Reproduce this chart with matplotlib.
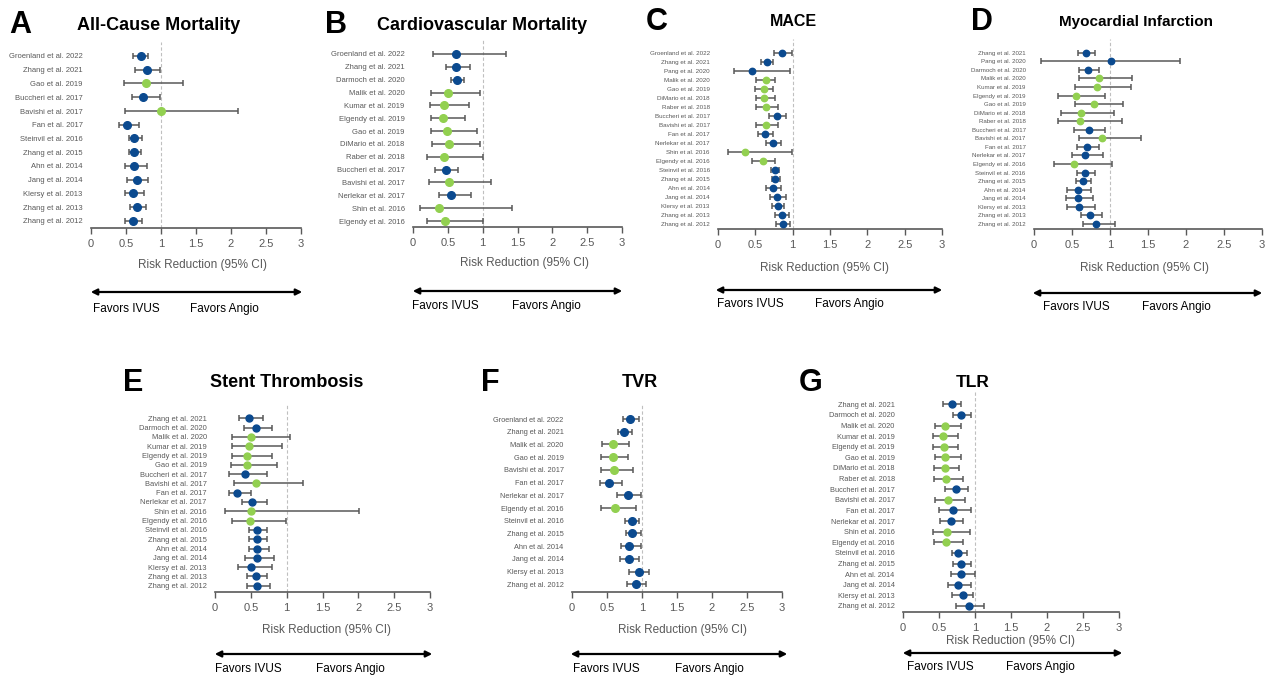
import matplotlib
matplotlib.use('Agg')
import matplotlib.pyplot as plt
from matplotlib.patches import FancyArrowPatch

plt.rcParams['font.family'] = ['Liberation Sans', 'DejaVu Sans']

W, H = 1270, 676
BLUE = '#0b4a8f'
GREEN = '#92d050'
GRAY = '#595959'

# A) All-cause mortality
a_labels = ['Groenland et al. 2022', 'Zhang et al. 2021', 'Gao et al. 2019', 'Buccheri et al. 2017',
            'Bavishi et al. 2017', 'Fan et al. 2017', 'Steinvil et al. 2016', 'Zhang et al. 2015',
            'Ahn et al. 2014', 'Jang et al. 2014', 'Klersy et al. 2013', 'Zhang et al. 2013', 'Zhang et al. 2012']
a_est = [0.71, 0.80, 0.78, 0.74, 1.00, 0.52, 0.62, 0.62, 0.61, 0.65, 0.60, 0.66, 0.60]
a_lo = [0.60, 0.63, 0.47, 0.59, 0.48, 0.40, 0.54, 0.54, 0.48, 0.51, 0.48, 0.55, 0.48]
a_hi = [0.82, 0.99, 1.32, 0.99, 2.10, 0.68, 0.73, 0.72, 0.80, 0.81, 0.75, 0.79, 0.73]
a_grp = ['b', 'b', 'g', 'b', 'g', 'b', 'b', 'b', 'b', 'b', 'b', 'b', 'b']

# B) Cardiovascular mortality
b_labels = ['Groenland et al. 2022', 'Zhang et al. 2021', 'Darmoch et al. 2020', 'Malik et al. 2020',
            'Kumar et al. 2019', 'Elgendy et al. 2019', 'Gao et al. 2019', 'DiMario et al. 2018',
            'Raber et al. 2018', 'Buccheri et al. 2017', 'Bavishi et al. 2017', 'Nerlekar et al. 2017',
            'Shin et al. 2016', 'Elgendy et al. 2016']
b_est = [0.62, 0.62, 0.63, 0.50, 0.44, 0.43, 0.49, 0.51, 0.45, 0.47, 0.51, 0.55, 0.38, 0.46]
b_lo = [0.29, 0.47, 0.54, 0.26, 0.24, 0.26, 0.26, 0.27, 0.20, 0.32, 0.23, 0.37, 0.10, 0.20]
b_hi = [1.33, 0.82, 0.73, 0.96, 0.80, 0.75, 0.92, 0.96, 1.00, 0.65, 1.12, 0.83, 1.42, 1.00]
b_grp = ['b', 'b', 'b', 'g', 'g', 'g', 'g', 'g', 'g', 'b', 'g', 'b', 'g', 'g']

# C) MACE
c_labels = ['Groenland et al. 2022', 'Zhang et al. 2021', 'Pang et al. 2020', 'Malik et al. 2020',
            'Gao et al. 2019', 'DiMario et al. 2018', 'Raber et al. 2018', 'Buccheri et al. 2017',
            'Bavishi et al. 2017', 'Fan et al. 2017', 'Nerlekar et al. 2017', 'Shin et al. 2016',
            'Elgendy et al. 2016', 'Steinvil et al. 2016', 'Zhang et al. 2015', 'Ahn et al. 2014',
            'Jang et al. 2014', 'Klersy et al. 2013', 'Zhang et al. 2013', 'Zhang et al. 2012']
c_est = [0.86, 0.65, 0.46, 0.64, 0.61, 0.62, 0.64, 0.79, 0.64, 0.63, 0.73, 0.36, 0.60, 0.76, 0.77, 0.74, 0.79, 0.80, 0.86, 0.87]
c_lo = [0.75, 0.58, 0.21, 0.51, 0.49, 0.51, 0.51, 0.68, 0.51, 0.54, 0.64, 0.13, 0.46, 0.71, 0.72, 0.64, 0.69, 0.72, 0.77, 0.78]
c_hi = [0.99, 0.73, 0.97, 0.76, 0.74, 0.76, 0.80, 0.91, 0.80, 0.73, 0.85, 0.99, 0.76, 0.82, 0.83, 0.85, 0.91, 0.88, 0.95, 0.96]
c_grp = ['b', 'b', 'b', 'g', 'g', 'g', 'g', 'b', 'g', 'b', 'b', 'g', 'g', 'b', 'b', 'b', 'b', 'b', 'b', 'b']

# D) Myocardial infarction
d_labels = ['Zhang et al. 2021', 'Pang et al. 2020', 'Darmoch et al. 2020', 'Malik et al. 2020',
            'Kumar et al. 2019', 'Elgendy et al. 2019', 'Gao et al. 2019', 'DiMario et al. 2018',
            'Raber et al. 2018', 'Buccheri et al. 2017', 'Bavishi et al. 2017', 'Fan et al. 2017',
            'Nerlekar et al. 2017', 'Elgendy et al. 2016', 'Steinvil et al. 2016', 'Zhang et al. 2015',
            'Ahn et al. 2014', 'Jang et al. 2014', 'Klersy et al. 2013', 'Zhang et al. 2013', 'Zhang et al. 2012']
d_est = [0.685, 1.01, 0.71, 0.86, 0.83, 0.55, 0.79, 0.62, 0.61, 0.72, 0.90, 0.70, 0.67, 0.52, 0.675, 0.64, 0.58, 0.58, 0.59, 0.74, 0.82]
d_lo = [0.58, 0.09, 0.59, 0.59, 0.54, 0.32, 0.54, 0.36, 0.32, 0.53, 0.59, 0.56, 0.50, 0.26, 0.57, 0.55, 0.44, 0.42, 0.44, 0.62, 0.64]
d_hi = [0.80, 1.92, 0.86, 1.29, 1.28, 0.94, 1.17, 1.05, 1.16, 0.94, 1.41, 0.86, 0.91, 1.02, 0.80, 0.75, 0.75, 0.78, 0.80, 0.90, 1.06]
d_grp = ['b', 'b', 'b', 'g', 'g', 'g', 'g', 'g', 'g', 'b', 'g', 'b', 'b', 'g', 'b', 'b', 'b', 'b', 'b', 'b', 'b']

# E) Stent thrombosis
e_labels = ['Zhang et al. 2021', 'Darmoch et al. 2020', 'Malik et al. 2020', 'Kumar et al. 2019',
            'Elgendy et al. 2019', 'Gao et al. 2019', 'Buccheri et al. 2017', 'Bavishi et al. 2017',
            'Fan et al. 2017', 'Nerlekar et al. 2017', 'Shin et al. 2016', 'Elgendy et al. 2016',
            'Steinvil et al. 2016', 'Zhang et al. 2015', 'Ahn et al. 2014', 'Jang et al. 2014',
            'Klersy et al. 2013', 'Zhang et al. 2013', 'Zhang et al. 2012']
e_est = [0.48, 0.57, 0.50, 0.47, 0.44, 0.45, 0.42, 0.57, 0.31, 0.52, 0.50, 0.49, 0.58, 0.59, 0.59, 0.59, 0.50, 0.57, 0.58]
e_lo = [0.33, 0.41, 0.24, 0.24, 0.24, 0.23, 0.20, 0.27, 0.20, 0.38, 0.135, 0.24, 0.47, 0.47, 0.47, 0.42, 0.32, 0.44, 0.44]
e_hi = [0.665, 0.80, 1.05, 0.94, 0.80, 0.87, 0.72, 1.23, 0.50, 0.72, 2.01, 0.99, 0.73, 0.73, 0.75, 0.82, 0.80, 0.73, 0.77]
e_grp = ['b', 'b', 'g', 'g', 'g', 'g', 'b', 'g', 'b', 'b', 'g', 'g', 'b', 'b', 'b', 'b', 'b', 'b', 'b']

# F) TVR
f_labels = ['Groenland et al. 2022', 'Zhang et al. 2021', 'Malik et al. 2020', 'Gao et al. 2019',
            'Bavishi et al. 2017', 'Fan et al. 2017', 'Nerlekar et al. 2017', 'Elgendy et al. 2016',
            'Steinvil et al. 2016', 'Zhang et al. 2015', 'Ahn et al. 2014', 'Jang et al. 2014',
            'Klersy et al. 2013', 'Zhang et al. 2012']
f_est = [0.83, 0.74, 0.59, 0.58, 0.60, 0.53, 0.80, 0.61, 0.86, 0.86, 0.82, 0.81, 0.95, 0.91]
f_lo = [0.73, 0.65, 0.43, 0.41, 0.41, 0.40, 0.64, 0.41, 0.76, 0.77, 0.70, 0.68, 0.82, 0.78]
f_hi = [0.96, 0.85, 0.81, 0.80, 0.87, 0.71, 0.99, 0.91, 0.95, 0.98, 0.98, 0.95, 1.10, 1.05]
f_grp = ['b', 'b', 'g', 'g', 'g', 'b', 'b', 'g', 'b', 'b', 'b', 'b', 'b', 'b']

# G) TLR
g_labels = ['Zhang et al. 2021', 'Darmoch et al. 2020', 'Malik et al. 2020', 'Kumar et al. 2019',
            'Elgendy et al. 2019', 'Gao et al. 2019', 'DiMario et al. 2018', 'Raber et al. 2018',
            'Buccheri et al. 2017', 'Bavishi et al. 2017', 'Fan et al. 2017', 'Nerlekar et al. 2017',
            'Shin et al. 2016', 'Elgendy et al. 2016', 'Steinvil et al. 2016', 'Zhang et al. 2015',
            'Ahn et al. 2014', 'Jang et al. 2014', 'Klersy et al. 2013', 'Zhang et al. 2012']
g_est = [0.68, 0.81, 0.59, 0.56, 0.57, 0.59, 0.58, 0.60, 0.74, 0.62, 0.69, 0.66, 0.61, 0.60, 0.77, 0.81, 0.81, 0.76, 0.83, 0.91]
g_lo = [0.56, 0.70, 0.44, 0.41, 0.42, 0.44, 0.43, 0.43, 0.58, 0.45, 0.50, 0.52, 0.41, 0.43, 0.68, 0.69, 0.67, 0.62, 0.68, 0.73]
g_hi = [0.81, 0.94, 0.81, 0.77, 0.77, 0.81, 0.78, 0.83, 0.90, 0.86, 0.94, 0.84, 0.93, 0.84, 0.89, 0.94, 1.00, 0.94, 0.97, 1.12]
g_grp = ['b', 'b', 'g', 'g', 'g', 'g', 'g', 'g', 'b', 'g', 'b', 'b', 'g', 'g', 'b', 'b', 'b', 'b', 'b', 'b']

xticks = [0, 0.5, 1, 1.5, 2, 2.5, 3]
xtick_labels = ['0', '0.5', '1', '1.5', '2', '2.5', '3']

fig = plt.figure(figsize=(W / 100, H / 100), dpi=100)


def fx(x):
    return x / W


def fy(y):
    return 1 - y / H


def panel(letter, title, labels, est, lo, hi, grp, lay):
    # lay: pixel layout of the panel
    n = len(labels)
    x0, x3, yf, yl, ya = lay['x0'], lay['x3'], lay['yf'], lay['yl'], lay['ya']
    top = yf - 14
    s = (yl - yf) / (n - 1)
    ax = fig.add_axes([fx(x0), fy(ya), (x3 - x0) / W, (ya - top) / H])
    ax.set_xlim(0, 3)
    ax.set_ylim(-(ya - yl) / s, n - 1 + (yf - top) / s)
    ypos = [n - 1 - i for i in range(n)]
    ax.axvline(1, color='#bfbfbf', lw=0.8, ls=(0, (3, 2)), zorder=0)
    ms = lay.get('ms', 5.5)
    for i in range(n):
        c = BLUE if grp[i] == 'b' else GREEN
        ax.errorbar(est[i], ypos[i], xerr=[[est[i] - lo[i]], [hi[i] - est[i]]], fmt='o',
                    color=c, ms=ms, ecolor=GRAY, elinewidth=1.1, capsize=2.2, capthick=1.1,
                    mec=c, zorder=3)
    ax.set_yticks(ypos)
    ax.set_yticklabels(labels, fontsize=lay['fs'], color=GRAY)
    ax.tick_params(axis='y', length=0, pad=6)
    ax.set_xticks(xticks)
    ax.set_xticklabels(xtick_labels, fontsize=8, color=GRAY)
    ax.tick_params(axis='x', direction='out', length=4, color=GRAY, width=1, pad=4)
    for sp in ['top', 'right', 'left']:
        ax.spines[sp].set_visible(False)
    ax.spines['bottom'].set_color(GRAY)
    ax.spines['bottom'].set_linewidth(1.2)
    ax.patch.set_alpha(0)

    fig.text(fx(lay['letter'][0]), fy(lay['letter'][1]), letter, fontsize=22, fontweight='bold',
             ha='center', va='center')
    fig.text(fx(lay['title'][0]), fy(lay['title'][1]), title, fontsize=lay.get('ts', 13),
             fontweight='bold', ha='center', va='center')
    fig.text(fx(lay['xlab'][0]), fy(lay['xlab'][1]), 'Risk Reduction (95% CI)', fontsize=8.5,
             color=GRAY, ha='center', va='center')
    ax0, ax1, ay = lay['arrow']
    fig.add_artist(FancyArrowPatch((fx(ax0), fy(ay)), (fx(ax1), fy(ay)), transform=fig.transFigure,
                                   arrowstyle='<|-|>', mutation_scale=9, lw=1.6, color='black'))
    fig.text(fx(lay['ivus'][0]), fy(lay['ivus'][1]), 'Favors IVUS', fontsize=8.5,
             ha='left', va='center')
    fig.text(fx(lay['angio'][0]), fy(lay['angio'][1]), 'Favors Angio', fontsize=8.5,
             ha='left', va='center')
    return ax


panel('A', 'All-Cause Mortality', a_labels, a_est, a_lo, a_hi, a_grp,
      dict(x0=91, x3=301, yf=56, yl=221, ya=228, fs=5.5, letter=(20, 25), title=(159, 25),
           xlab=(203, 265), arrow=(88, 305, 292), ivus=(93, 309), angio=(190, 309)))
panel('B', 'Cardiovascular Mortality', b_labels, b_est, b_lo, b_hi, b_grp,
      dict(x0=413, x3=622, yf=54, yl=221, ya=227, fs=5.5, letter=(336, 25), title=(482, 25),
           xlab=(524, 263), arrow=(410, 625, 291), ivus=(412, 306), angio=(512, 306)))
panel('C', 'MACE', c_labels, c_est, c_lo, c_hi, c_grp,
      dict(x0=718, x3=942, yf=53.3, yl=224, ya=229, fs=4.5, ms=4.6, ts=11.5, letter=(657, 22),
           title=(793, 22), xlab=(825, 268), arrow=(713, 945, 290), ivus=(717, 304), angio=(815, 304)))
panel('D', 'Myocardial Infarction', d_labels, d_est, d_lo, d_hi, d_grp,
      dict(x0=1034, x3=1262, yf=52.7, yl=224, ya=229, fs=4.4, ms=4.6, ts=11, letter=(982, 22),
           title=(1136, 22), xlab=(1145, 268), arrow=(1030, 1265, 293), ivus=(1043, 307), angio=(1142, 307)))
panel('E', 'Stent Thrombosis', e_labels, e_est, e_lo, e_hi, e_grp,
      dict(x0=215, x3=430, yf=418.3, yl=585.7, ya=591.7, fs=5.4, ms=5, letter=(133, 383), title=(287, 383),
           xlab=(326, 630), arrow=(212, 435, 654), ivus=(215, 669), angio=(316, 669)))
panel('F', 'TVR', f_labels, f_est, f_lo, f_hi, f_grp,
      dict(x0=572, x3=782, yf=419, yl=584.3, ya=591.7, fs=5.3, letter=(490, 383), title=(640, 383),
           xlab=(682, 630), arrow=(568, 790, 654), ivus=(573, 669), angio=(675, 669)))
panel('G', 'TLR', g_labels, g_est, g_lo, g_hi, g_grp,
      dict(x0=903, x3=1119, yf=404.3, yl=606, ya=612, fs=5.3, ms=5, ts=12.5, letter=(811, 383),
           title=(973, 383), xlab=(1010, 641), arrow=(900, 1125, 653), ivus=(907, 667), angio=(1006, 667)))

fig.savefig('out.png', dpi=100)
